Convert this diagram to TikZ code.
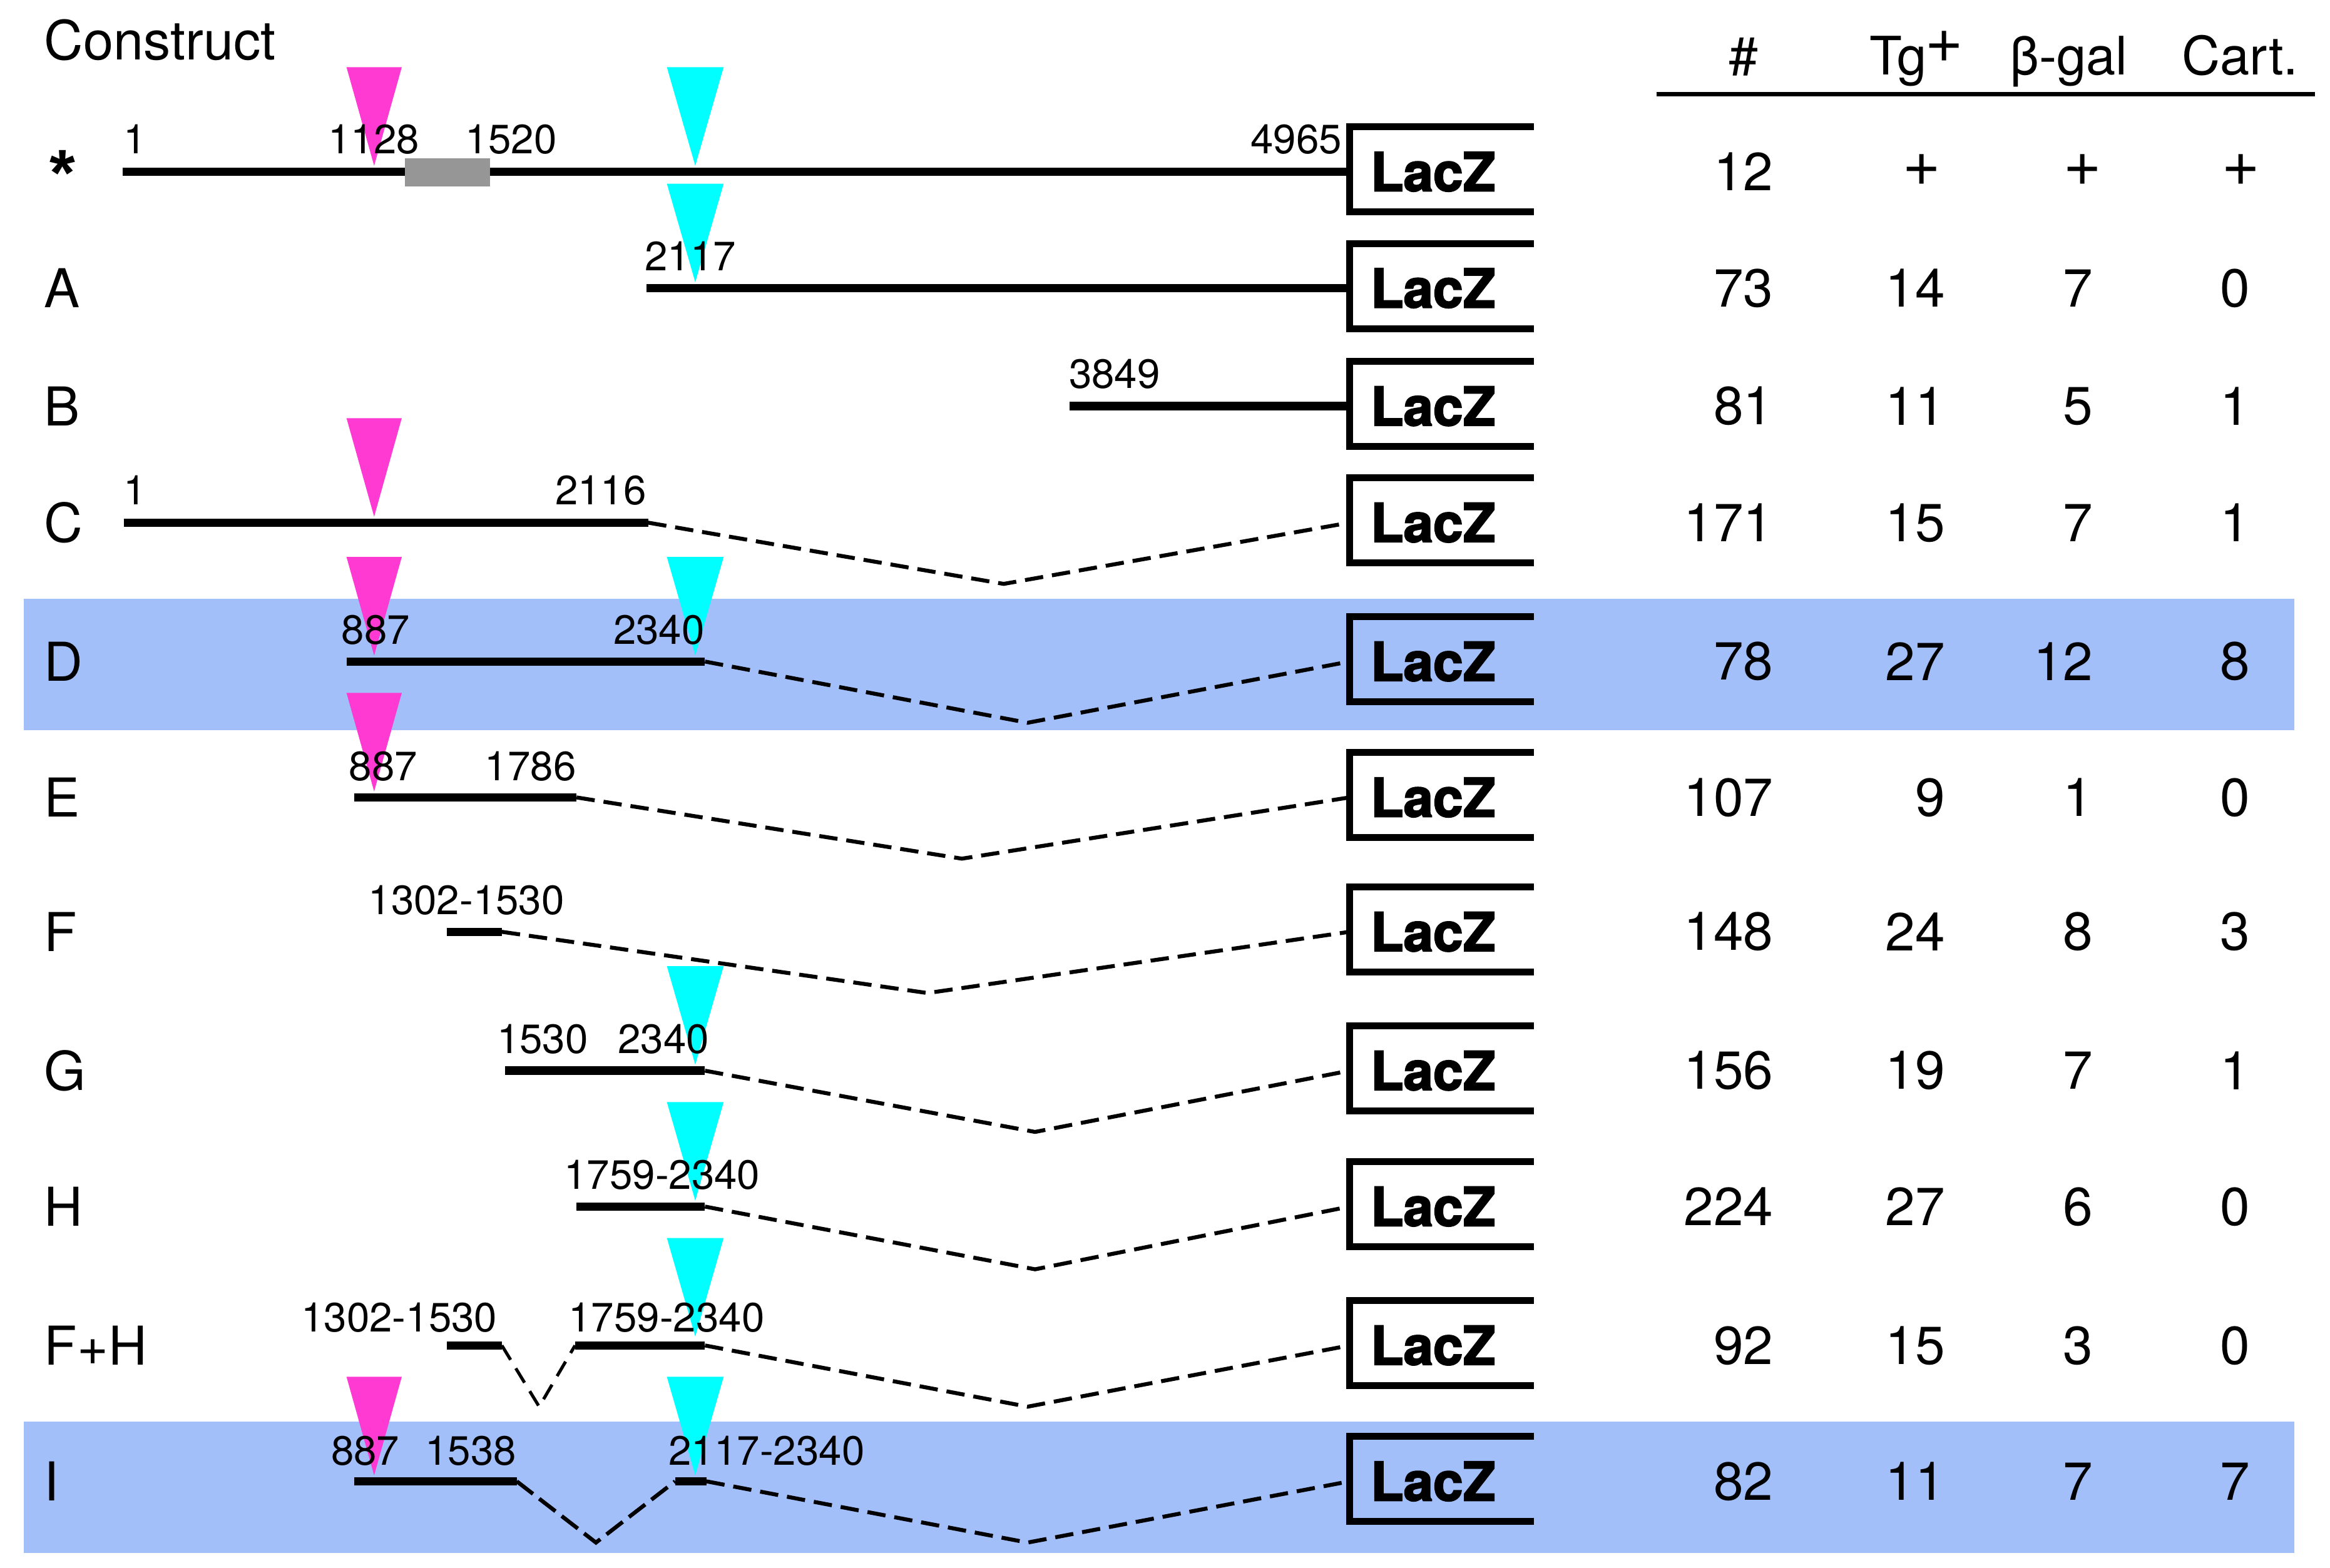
\documentclass[tikz,border=0pt]{standalone}
\usepackage{fontspec}
\setmainfont{TeX Gyre Heros}
\newfontfamily\plusfont{Liberation Sans}
\newfontfamily\laczfont[FakeBold=2.5]{texgyreheros-bold.otf}
\definecolor{magtricol}{RGB}{255,58,210}
\definecolor{cyantricol}{RGB}{0,255,255}
\definecolor{bandblue}{RGB}{163,191,250}
\definecolor{boxgray}{RGB}{150,150,150}
\tikzset{
  seg/.style={line width=1.6pt},
  splice/.style={line width=0.75pt, dash pattern=on 3.5pt off 1.7pt},
  smallsplice/.style={line width=0.6pt, dash pattern=on 3.2pt off 1.9pt},
  boxline/.style={line width=1.3pt},
  poslab/.style={inner sep=0pt, anchor=base west, font=\fontsize{7.8}{9}\selectfont},
  rowlab/.style={inner sep=0pt, anchor=west, font=\fontsize{10.2}{12}\selectfont},
  numlab/.style={inner sep=0pt, anchor=east, font=\fontsize{10.2}{12}\selectfont},
  pluslab/.style={inner sep=0pt, anchor=center, font=\fontsize{11.5}{12}\plusfont},
  headlab/.style={inner sep=0pt, anchor=base west, font=\fontsize{10.1}{12}\selectfont},
  laczlab/.style={inner sep=0pt, anchor=west, font=\fontsize{10.2}{12}\laczfont},
  bandfill/.style={fill=bandblue, draw=none},
  mtrifill/.style={fill=magtricol, draw=none},
  ctrifill/.style={fill=cyantricol, draw=none},
}
\newcommand\mytrim[2]{\fill[mtrifill] (232,#2-70) -- (269,#2-70) -- (250.5,#2-4) -- cycle;}
\newcommand\mytric[2]{\fill[ctrifill] (446.5,#2-70) -- (484.5,#2-70) -- (465.5,#2-4) -- cycle;}
\newcommand\mybox[2]{% name, y
  \coordinate (#1-in) at (903.5,#2);
  \draw[boxline] (1027,#2-30) -- (903.5,#2-30) -- (903.5,#2+27) -- (1027,#2+27);
  \node[laczlab] (#1-lacz) at (917,#2) {LacZ};
}
\newcommand\myrow[3]{% name, y, label
  \node[rowlab] (#1-lab) at (29,#2) {#3};
  \mybox{#1}{#2}
}
\newcommand\mynums[6]{% name, y, four values
  \node[numlab] (#1-n1) at (1188,#2) {#3};
  \node[numlab] (#1-n2) at (1303,#2) {#4};
  \node[numlab] (#1-n3) at (1402,#2) {#5};
  \node[numlab] (#1-n4) at (1507,#2) {#6};
}
\begin{document}
\begin{tikzpicture}[x=0.01cm,y=-0.01cm]
\useasboundingbox (0,0) rectangle (1560,1050);
% bands
\fill[bandfill] (16,401) rectangle (1536,489);
\fill[bandfill] (16,952) rectangle (1536,1040);
% triangles
\mytrim{s}{115}\mytric{s}{115}
\mytric{A}{193}
\mytrim{C}{350}
\mytrim{D}{443}\mytric{D}{443}
\mytrim{E}{534}
\mytric{G}{717}
\mytric{H}{808}
\fill[ctrifill] (446.5,829) -- (484.5,829) -- (465.5,895) -- cycle;
\mytrim{I}{992}\mytric{I}{992}
% header
\node[headlab] (construct) at (29,40) {\fontsize{10.3}{12}\selectfont Construct};
\node[headlab, anchor=base] (hnum) at (1167.5,50) {\#};
\node[headlab] (htg) at (1251,50) {Tg\raisebox{1.7pt}{\fontsize{11.5}{12}\plusfont +}};
\node[headlab] (hbgal) at (1345,50) {β-gal};
\node[headlab] (hcart) at (1460,50) {Cart.};
\coordinate (ul-a) at (1109,63);
\coordinate (ul-b) at (1550,63);
\draw[line width=0.75pt] (ul-a) -- (ul-b);
% rows: boxes and labels
\node[inner sep=0pt, font=\fontsize{12.5}{12}\plusfont\bfseries] (s-lab) at (42,116) {*};
\mybox{s}{115}
\myrow{A}{193}{A}
\myrow{B}{272}{B}
\myrow{C}{350}{C}
\myrow{D}{443}{D}
\myrow{E}{534}{E}
\myrow{F}{624}{F}
\myrow{G}{717}{G}
\myrow{H}{808}{H}
\myrow{FH}{901}{F+H}
\myrow{I}{992}{I}
% row *
\coordinate (s-a) at (82,115);
\draw[seg] (s-a) -- (s-in);
\fill[boxgray] (271,106) rectangle (328,125);
\node[poslab] (s-p1) at (82,103) {1};
\node[poslab] (s-p2) at (219,103) {1128};
\node[poslab] (s-p3) at (311,103) {1520};
\node[poslab, anchor=base east] (s-p4) at (899,103) {4965};
% row A
\coordinate (A-a) at (433,193);
\draw[seg] (A-a) -- (A-in);
\node[poslab] (A-p1) at (431,181) {2117};
% row B
\coordinate (B-a) at (716,272);
\draw[seg] (B-a) -- (B-in);
\node[poslab] (B-p1) at (715,260) {3849};
% row C
\coordinate (C-a) at (83,350);
\coordinate (C-b) at (434,350);
\coordinate (C-v) at (672,391);
\draw[seg] (C-a) -- (C-b);
\draw[splice] (C-b) -- (C-v) -- (C-in);
\node[poslab] (C-p1) at (82,338) {1};
\node[poslab] (C-p2) at (371,338) {2116};
% row D
\coordinate (D-a) at (232,443);
\coordinate (D-b) at (472,443);
\coordinate (D-v) at (688,484);
\draw[seg] (D-a) -- (D-b);
\draw[splice] (D-b) -- (D-v) -- (D-in);
\node[poslab] (D-p1) at (228,431.5) {887};
\node[poslab] (D-p2) at (410,431.5) {2340};
% row E
\coordinate (E-a) at (237,534);
\coordinate (E-b) at (386,534);
\coordinate (E-v) at (644,575);
\draw[seg] (E-a) -- (E-b);
\draw[splice] (E-b) -- (E-v) -- (E-in);
\node[poslab] (E-p1) at (233,522.5) {887};
\node[poslab] (E-p2) at (324,522.5) {1786};
% row F
\coordinate (F-a) at (299,624);
\coordinate (F-b) at (336,624);
\coordinate (F-v) at (621,665);
\draw[seg] (F-a) -- (F-b);
\draw[splice] (F-b) -- (F-v) -- (F-in);
\node[poslab] (F-p1) at (246,612.5) {1302-1530};
% row G
\coordinate (G-a) at (338,717);
\coordinate (G-b) at (472,717);
\coordinate (G-v) at (693,758);
\draw[seg] (G-a) -- (G-b);
\draw[splice] (G-b) -- (G-v) -- (G-in);
\node[poslab] (G-p1) at (332,705.5) {1530};
\node[poslab] (G-p2) at (413,705.5) {2340};
% row H
\coordinate (H-a) at (386,808);
\coordinate (H-b) at (472,808);
\coordinate (H-v) at (693,850);
\draw[seg] (H-a) -- (H-b);
\draw[splice] (H-b) -- (H-v) -- (H-in);
\node[poslab] (H-p1) at (377,796.5) {1759-2340};
% row F+H
\coordinate (FH-a) at (299,901);
\coordinate (FH-b) at (336,901);
\coordinate (FH-sv) at (361,942);
\coordinate (FH-c) at (385,901);
\coordinate (FH-d) at (472,901);
\coordinate (FH-v) at (688,942);
\draw[seg] (FH-a) -- (FH-b);
\draw[seg] (FH-c) -- (FH-d);
\draw[smallsplice] (FH-b) -- (FH-sv) -- (FH-c);
\draw[splice] (FH-d) -- (FH-v) -- (FH-in);
\node[poslab] (FH-p1) at (201,892) {1302-1530};
\node[poslab] (FH-p2) at (380,892) {1759-2340};
% row I
\coordinate (I-a) at (237,992);
\coordinate (I-b) at (346,992);
\coordinate (I-sv) at (399,1033);
\coordinate (I-c) at (452,992);
\coordinate (I-d) at (473,992);
\coordinate (I-v) at (688,1033);
\draw[seg] (I-a) -- (I-b);
\draw[seg] (I-c) -- (I-d);
\draw[smallsplice, line width=0.75pt, dash pattern=on 3.9pt off 1.5pt] (I-b) -- (I-sv) -- (I-c);
\draw[splice] (I-d) -- (I-v) -- (I-in);
\node[poslab] (I-p1) at (221,981) {887};
\node[poslab] (I-p2) at (284,981) {1538};
\node[poslab] (I-p3) at (447,981) {2117-2340};
% numbers
\node[numlab] (s-n1) at (1188,115) {12};
\node[pluslab] (s-n2) at (1286.5,115) {+};
\node[pluslab] (s-n3) at (1394.5,115) {+};
\node[pluslab] (s-n4) at (1500.5,115) {+};
\mynums{A}{193}{73}{14}{7}{0}
\mynums{B}{272}{81}{11}{5}{1}
\mynums{C}{350}{171}{15}{7}{1}
\mynums{D}{443}{78}{27}{12}{8}
\mynums{E}{534}{107}{9}{1}{0}
\mynums{F}{624}{148}{24}{8}{3}
\mynums{G}{717}{156}{19}{7}{1}
\mynums{H}{808}{224}{27}{6}{0}
\mynums{FH}{901}{92}{15}{3}{0}
\mynums{I}{992}{82}{11}{7}{7}
\end{tikzpicture}
\end{document}
